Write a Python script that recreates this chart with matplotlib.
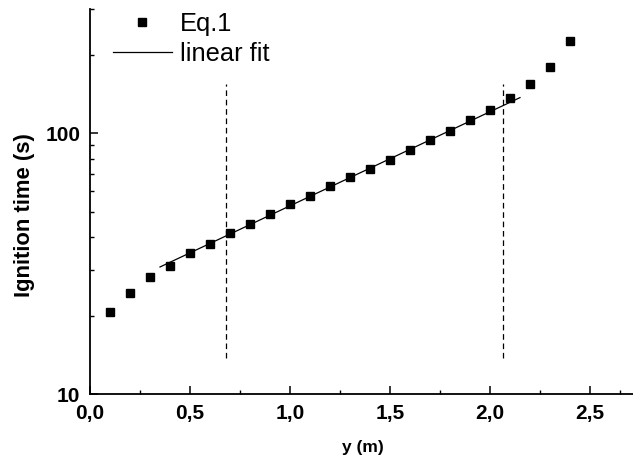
import numpy as np
import matplotlib
matplotlib.use("Agg")
import matplotlib.pyplot as plt
from matplotlib.ticker import FixedLocator, LogLocator, NullFormatter, FuncFormatter

# ---- data ----
y_pos = [0.1, 0.2, 0.3, 0.4, 0.5, 0.6, 0.7, 0.8, 0.9, 1.0, 1.1, 1.2,
         1.3, 1.4, 1.5, 1.6, 1.7, 1.8, 1.9, 2.0, 2.1, 2.2, 2.3, 2.4]
ign_time = [20.6, 24.4, 28.1, 30.9, 34.7, 37.6, 41.6, 44.8, 49.2, 53.8, 57.6, 62.7,
            68.0, 73.0, 79.3, 86.3, 94.0, 102.4, 112.1, 123.3, 137.1, 154.1, 179.0, 226.6]
# linear fit in log10 space: log10(t) = fit_a + fit_b * y
fit_a = 1.361
fit_b = 0.361
fit_range = [0.35, 2.15]
# dashed bounds of the fitted range
bound_x = [0.68, 2.063]
bound_ylo = 13.7
bound_yhi = 154.0
x_ticks = [0.0, 0.5, 1.0, 1.5, 2.0, 2.5]
y_ticks = [10, 100]

plt.rcParams['font.family'] = ['Liberation Sans', 'DejaVu Sans']

W, H = 633, 462
fig = plt.figure(figsize=(W / 100, H / 100), dpi=100)
ax = fig.add_axes([90 / W, (H - 394) / H, 543 / W, 385 / H])

ax.plot(y_pos, ign_time, 's', color='black', markersize=6, label='Eq.1', zorder=3)
fx = np.linspace(fit_range[0], fit_range[1], 50)
ax.plot(fx, 10 ** (fit_a + fit_b * fx), '-', color='black', lw=0.9, label='linear fit', zorder=2)
for bx in bound_x:
    ax.plot([bx, bx], [bound_ylo, bound_yhi], color='black', lw=0.9, dashes=(4.5, 3))

ax.set_yscale('log')
ax.set_xlim(0, 2.715)
ax.set_ylim(10, 300)

for s in ['top', 'right']:
    ax.spines[s].set_visible(False)
for s in ['left', 'bottom']:
    ax.spines[s].set_linewidth(1.3)

ax.xaxis.set_major_locator(FixedLocator(x_ticks))
ax.xaxis.set_minor_locator(FixedLocator([0.25, 0.75, 1.25, 1.75, 2.25, 2.65]))
ax.xaxis.set_major_formatter(FuncFormatter(lambda v, p: f"{v:.1f}".replace('.', ',')))
ax.yaxis.set_major_locator(FixedLocator(y_ticks))
ax.yaxis.set_minor_locator(LogLocator(base=10, subs=np.arange(2, 10)))
ax.yaxis.set_minor_formatter(NullFormatter())
ax.yaxis.set_major_formatter(FuncFormatter(lambda v, p: f"{int(v)}"))

ax.tick_params(which='major', direction='in', length=6, width=1.1, pad=7,
               labelsize=15)
ax.tick_params(which='minor', direction='in', length=3, width=1.0)
for lab in ax.get_xticklabels() + ax.get_yticklabels():
    lab.set_fontweight('bold')

ax.set_xlabel('y (m)', fontsize=12.5, fontweight='bold', va='center')
ax.xaxis.set_label_coords(0.503, -0.14)
ax.set_ylabel('Ignition time (s)', fontsize=15.8, fontweight='bold', va='center')
ax.yaxis.set_label_coords(-0.12, 0.465)

leg = ax.legend(loc='upper left', bbox_to_anchor=(113 / W, (H - 11.5) / H),
                bbox_transform=fig.transFigure, frameon=False, fontsize=18.3,
                borderpad=0, borderaxespad=0, handlelength=2.32,
                handletextpad=0.32, labelspacing=0.25)

fig.savefig('out.png', dpi=100)
